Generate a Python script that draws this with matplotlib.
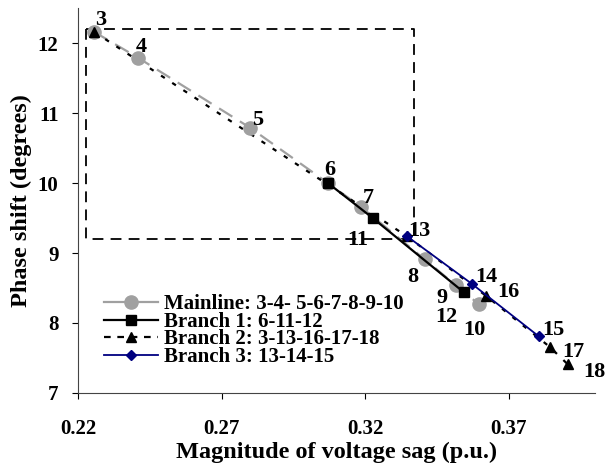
import numpy as np
import matplotlib
matplotlib.use("Agg")
import matplotlib.pyplot as plt
from matplotlib.lines import Line2D

#%% data (magnitude p.u., phase shift deg)
main_nodes = ["3", "4", "5", "6", "7", "8", "9", "10"]
main_x = [0.2256, 0.2409, 0.2799, 0.3070, 0.3185, 0.3407, 0.3515, 0.3595]
main_y = [12.16, 11.79, 10.79, 10.00, 9.66, 8.91, 8.54, 8.27]

br1_nodes = ["6", "11", "12"]
br1_x = [0.3070, 0.3226, 0.3543]
br1_y = [10.00, 9.50, 8.44]

br2_nodes = ["3", "13", "16", "17", "18"]
br2_x = [0.2256, 0.3345, 0.3620, 0.3842, 0.3905]
br2_y = [12.16, 9.24, 8.39, 7.66, 7.41]

br3_nodes = ["13", "14", "15"]
br3_x = [0.3345, 0.3571, 0.3804]
br3_y = [9.24, 8.56, 7.81]

legend_labels = ["Mainline: 3-4- 5-6-7-8-9-10",
                 "Branch 1: 6-11-12",
                 "Branch 2: 3-13-16-17-18",
                 "Branch 3: 13-14-15"]

# node label offsets in pixels (dx, dy up)
lbl_off = {"3": (7, 12), "4": (3, 11), "5": (8, 8), "6": (2, 13), "7": (7, 9),
           "11": (-15, -22), "13": (13, 5), "8": (-12, -18), "9": (-14, -13),
           "12": (-17, -25), "14": (15, 7), "16": (23, 4), "10": (-4, -26),
           "15": (15, 6), "17": (24, -5), "18": (27, -8)}

#%% plot
serif = ["Liberation Serif", "DejaVu Serif"]
plt.rcParams["font.family"] = serif
plt.rcParams["font.weight"] = "bold"

fig = plt.figure(figsize=(6.05, 4.72), dpi=100)
ax = fig.add_axes([0.1289, 0.1674, 0.8546, 0.8156])

grey = "#a0a0a0"
navy = "#000080"

ax.plot(main_x, main_y, color=grey, lw=1.6, dashes=(7, 4), zorder=2)
ax.plot(main_x, main_y, ls="none", marker="o", ms=9.5, color=grey, zorder=3)
ax.plot(br2_x, br2_y, color="black", lw=1.6, dashes=(2, 4), zorder=2)
ax.plot(br2_x, br2_y, ls="none", marker="^", ms=7, color="black", zorder=4)
ax.plot(br1_x, br1_y, color="black", lw=1.6, marker="s", ms=7, zorder=4)
ax.plot(br3_x, br3_y, color=navy, lw=1.3, marker="D", ms=5, zorder=5)

# dashed zoom box
ax.plot([0.2228, 0.3369, 0.3369, 0.2228, 0.2228],
        [12.2, 12.2, 9.2, 9.2, 12.2], color="black", lw=1.3, dashes=(6, 4), zorder=1)

# node labels
pts = {}
for nodes, xs, ys in [(main_nodes, main_x, main_y), (br1_nodes, br1_x, br1_y),
                      (br2_nodes, br2_x, br2_y), (br3_nodes, br3_x, br3_y)]:
    for n, x, y in zip(nodes, xs, ys):
        pts[n] = (x, y)
for n, (x, y) in pts.items():
    ax.annotate(n, (x, y), xytext=lbl_off[n], textcoords="offset pixels",
                ha="center", va="center", fontsize=16, fontweight="bold", zorder=6)

ax.set_xlim(0.22, 0.40)
ax.set_ylim(7, 12.5)
ax.set_xticks([0.22, 0.27, 0.32, 0.37])
ax.set_xticklabels(["0.22", "0.27", "0.32", "0.37"])
ax.set_yticks([7, 8, 9, 10, 11, 12])
ax.tick_params(axis="x", length=4, pad=15, labelsize=15)
ax.tick_params(axis="y", length=4, pad=10, labelsize=15)
for s in ["top", "right"]:
    ax.spines[s].set_visible(False)
ax.spines["left"].set_color("#444444")
ax.spines["bottom"].set_color("#444444")

ax.set_xlabel("Magnitude of voltage sag (p.u.)", fontsize=17.5, fontweight="bold", labelpad=2)
ax.set_ylabel("Phase shift (degrees)", fontsize=17.5, fontweight="bold", labelpad=4)

handles = [Line2D([], [], color=grey, lw=1.6, marker="o", ms=9.5),
           Line2D([], [], color="black", lw=1.6, marker="s", ms=7),
           Line2D([], [], color="black", lw=1.6, dashes=(3, 3), marker="^", ms=7),
           Line2D([], [], color=navy, lw=1.3, marker="D", ms=5)]
ax.legend(handles, legend_labels, loc="lower left", bbox_to_anchor=(0.022, 0.03),
          frameon=False, labelspacing=-0.12, handlelength=2.6,
          handletextpad=0.3, borderpad=0.2, prop={"family": serif, "weight": "bold", "size": 15})

fig.savefig("out.png", dpi=100)
